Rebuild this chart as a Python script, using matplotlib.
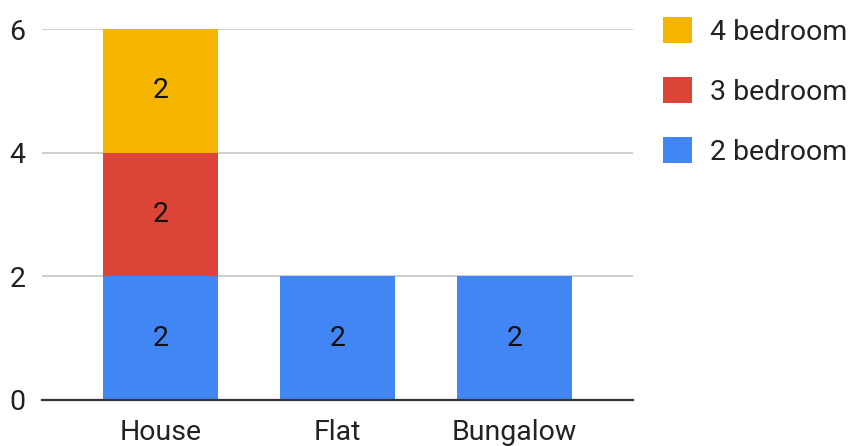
import matplotlib
matplotlib.use("Agg")
import matplotlib.pyplot as plt
from matplotlib.patches import Patch
import numpy as np

categories = ["House", "Flat", "Bungalow"]
series_names = ["2 bedroom", "3 bedroom", "4 bedroom"]
bed2 = [2, 2, 2]
bed3 = [2, 0, 0]
bed4 = [2, 0, 0]
colors = ["#4285F4", "#DB4437", "#F4B400"]
yticks = [0, 2, 4, 6]

plt.rcParams['font.family'] = ['Roboto', 'DejaVu Sans']
fs = 20.5

fig = plt.figure(figsize=(8.52, 4.46), dpi=100)
ax = fig.add_axes([42/852, 1-400/446, 591/852, 371/446])

x = np.arange(len(categories))
width = 0.65
bottom = np.zeros(len(categories))
for vals, col, name in zip([bed2, bed3, bed4], colors, series_names):
    vals = np.array(vals, dtype=float)
    ax.bar(x, vals, width, bottom=bottom, color=col, label=name, zorder=3)
    for xi, v, b in zip(x, vals, bottom):
        if v > 0:
            ax.text(xi, b + v/2, f"{int(v)}", ha="center", va="center",
                    fontsize=fs, color="#111111", zorder=4)
    bottom += vals

ax.set_xlim(-118.5/177, 2 + 118.5/177)
ax.set_ylim(0, 6)
ax.set_yticks(yticks)
ax.set_xticks(x)
ax.set_xticklabels(categories)
ax.tick_params(axis='both', length=0, labelsize=fs, colors="#222222")
ax.tick_params(axis='y', pad=12)
ax.tick_params(axis='x', pad=14)
for s in ["top", "right", "left"]:
    ax.spines[s].set_visible(False)
ax.spines["bottom"].set_color("#333333")
ax.spines["bottom"].set_linewidth(1.6)
ax.spines["bottom"].set_zorder(5)
ax.yaxis.grid(True, color="#cccccc", linewidth=1.3, zorder=0)
ax.set_axisbelow(True)

handles = [Patch(facecolor=c, edgecolor='none') for c in colors][::-1]
labels = series_names[::-1]
leg = fig.legend(handles, labels, loc="upper left", bbox_to_anchor=(663/852, 1 - 17/446),
                 frameon=False, fontsize=fs, labelspacing=1.1, handlelength=1.02,
                 handleheight=1.02, handletextpad=0.63, borderaxespad=0, borderpad=0)
for t in leg.get_texts():
    t.set_color("#222222")

fig.savefig("out.png", dpi=100)
